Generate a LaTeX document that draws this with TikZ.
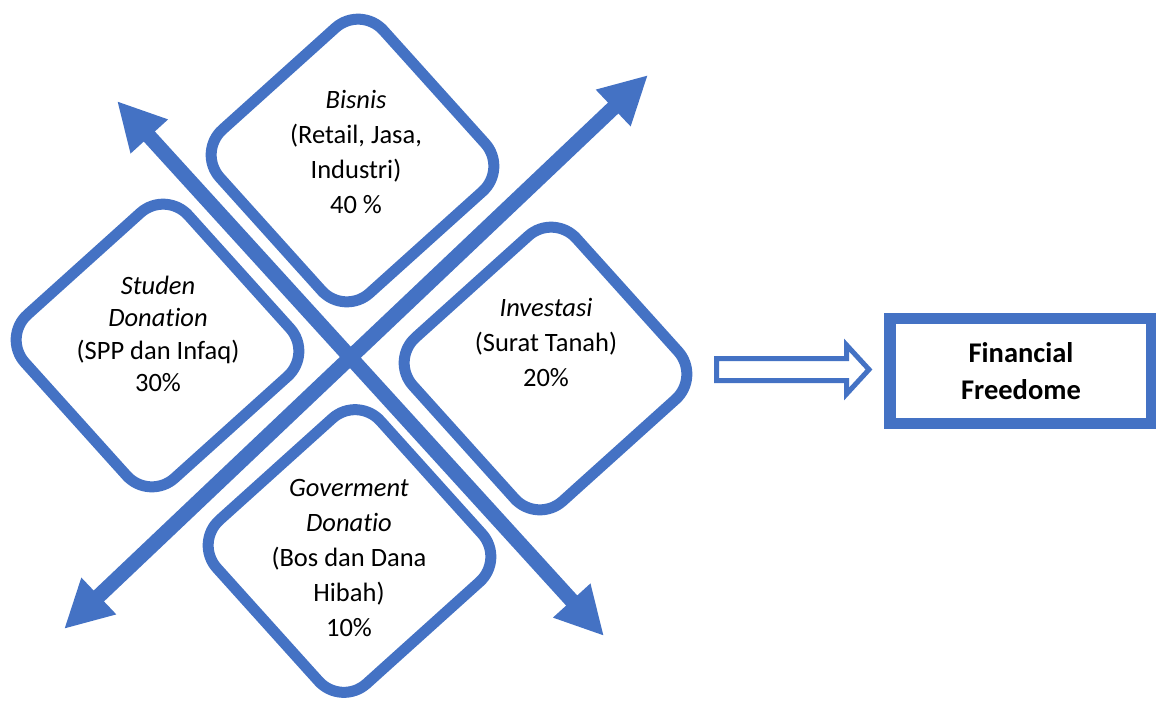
\documentclass[tikz,border=0pt]{standalone}
\usepackage{fontspec}
\setmainfont{Carlito}[Ligatures={NoCommon}]
\usetikzlibrary{arrows.meta}
\definecolor{obl}{HTML}{4472C4}
\begin{document}
\begin{tikzpicture}[x=1pt,y=-1pt,
  dia/.style={draw=obl, line width=11pt, rounded corners=34pt},
  lbl/.style={align=center, inner sep=0pt, text=black, font=\fontsize{26.5}{35}\selectfont},
  bigarrow/.style={draw=obl, line width=15pt, {Triangle[length=48pt,width=47pt]}-{Triangle[length=48pt,width=47pt]}},
  hollow/.style={draw=obl, line width=5pt, fill=white, line join=miter},
  goalbox/.style={draw=obl, line width=11.5pt, minimum width=262pt, minimum height=105pt, align=center, inner sep=0pt, font=\fontsize{28.5}{37}\selectfont\bfseries}]
\useasboundingbox (0,0) rectangle (1156,702);
% diamonds
\begin{scope}[shift={(352.5,160.5)}, rotate=42]
  \draw[dia] (-110,-110) rectangle (110,110);
\end{scope}
\begin{scope}[shift={(157.5,345.5)}, rotate=42]
  \draw[dia] (-110,-110) rectangle (110,110);
\end{scope}
\begin{scope}[shift={(545.5,368.5)}, rotate=42]
  \draw[dia] (-110,-110) rectangle (110,110);
\end{scope}
\begin{scope}[shift={(349.5,551)}, rotate=42]
  \draw[dia] (-110,-110) rectangle (110,110);
\end{scope}
% labels
\node[lbl] (bisnis) at (356,152) {\textit{Bisnis}\\(Retail, Jasa,\\Industri)\\40 \%};
\node[lbl, font=\fontsize{26.5}{32.5}\selectfont] (studen) at (158,334) {\textit{Studen}\\\textit{Donation}\\(SPP dan Infaq)\\30\%};
\node[lbl] (invest) at (546,342) {\textit{Investasi}\\(Surat Tanah)\\20\%};
\node[lbl] (gov) at (349,558) {\textit{Goverment}\\\textit{Donatio}\\(Bos dan Dana\\Hibah)\\10\%};
% crossing arrows
\coordinate (nw) at (117,101);
\coordinate (se) at (604,636);
\coordinate (sw) at (64,629);
\coordinate (ne) at (648,75);
\draw[bigarrow] (nw) -- (se);
\draw[bigarrow] (sw) -- (ne);
% hollow block arrow
\draw[hollow] (716.5,358.5) -- (846.5,358.5) -- (846.5,345) -- (869,369.5) -- (846.5,394) -- (846.5,380.5) -- (716.5,380.5) -- cycle;
% goal box
\node[goalbox] (goal) at (1021,371) {Financial\\Freedome};
\end{tikzpicture}
\end{document}
